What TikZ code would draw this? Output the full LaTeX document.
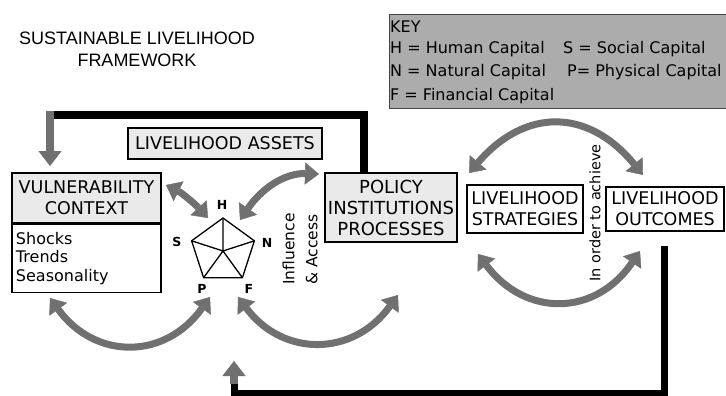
\documentclass[tikz,border=0pt]{standalone}
\usepackage{fontspec}
\setmainfont{DejaVu Sans}
\newfontfamily\titlefont{Liberation Sans}
\usetikzlibrary{arrows.meta}
\definecolor{arrgray}{RGB}{112,112,112}
\definecolor{keygray}{RGB}{172,172,172}
\definecolor{keyborder}{RGB}{70,70,70}
\definecolor{lightfill}{RGB}{234,234,234}
\begin{document}
\begin{tikzpicture}[x=1pt,y=-1pt,
  box/.style={draw=black, line width=1.4pt, inner sep=0pt, align=center, font=\fontsize{17.5}{21}\selectfont},
  garrow/.style={draw=arrgray, line width=7pt,
    {Triangle[width=22pt,length=14pt,line width=0.4pt]}-{Triangle[width=22pt,length=14pt,line width=0.4pt]}},
  ghead/.style={draw=arrgray, line width=8pt, -{Triangle[width=23pt,length=15pt,line width=0.4pt]}},
  feed/.style={draw=black, line width=8pt},
  keytext/.style={anchor=base west, inner sep=0pt, font=\fontsize{16}{19}\selectfont},
  pent/.style={draw=black, line width=1.3pt, line join=round},
  vlabel/.style={inner sep=0pt, font=\bfseries\fontsize{12.5}{14}\selectfont}
]
\useasboundingbox (0,0) rectangle (726,396);
\fill[white] (0,0) rectangle (726,396);

% title
\node[font=\titlefont\fontsize{18}{22}\selectfont, align=center, inner sep=0pt] (title) at (137,49) {SUSTAINABLE LIVELIHOOD\\FRAMEWORK};

% key
\node[draw=keyborder, line width=1.2pt, fill=keygray, minimum width=341pt, minimum height=94pt, anchor=north west, inner sep=0pt] (key) at (389,14) {};
\node[keytext] (k0) at (390,33) {KEY};
\node[keytext] (k1) at (390,54) {H = Human Capital};
\node[keytext] (k2) at (563,54) {S = Social Capital};
\node[keytext] (k3) at (390,77) {N = Natural Capital};
\node[keytext] (k4) at (567,77) {P= Physical Capital};
\node[keytext] (k5) at (390,100) {F = Financial Capital};

% top feedback line
\coordinate (pTop) at (364,173);
\coordinate (vTop) at (50,166);
\draw[feed] (pTop) -- (364,115) -- (50,115);
\draw[ghead] (50,111) -- (vTop);

% bottom feedback line
\coordinate (oBot) at (664,246);
\coordinate (fbTip) at (234,361);
\draw[feed, line width=7pt] (oBot) -- (664,393) -- (234,393) -- (234,380);
\draw[ghead] (234,384) -- (fbTip);

% boxes
\node[box, fill=lightfill, minimum width=194pt, minimum height=31pt] (assets) at (225,143.5) {LIVELIHOOD ASSETS};
\node[box, fill=lightfill, minimum width=149pt, minimum height=50pt] (vulhead) at (86.5,198) {VULNERABILITY\\CONTEXT};
\node[box, fill=white, minimum width=149pt, minimum height=68pt, anchor=north, align=left, text width=141pt, font=\fontsize{16}{18.5}\selectfont] (vulbody) at (vulhead.south) {Shocks\\Trends\\Seasonality};
\node[box, fill=lightfill, minimum width=132pt, minimum height=69pt, font=\fontsize{18}{21}\selectfont] (policy) at (391,207.5) {POLICY\\INSTITUTIONS\\PROCESSES};
\node[box, fill=white, minimum width=116pt, minimum height=48pt] (strat) at (525,209) {LIVELIHOOD\\STRATEGIES};
\node[box, fill=white, minimum width=118pt, minimum height=44pt] (outc) at (665,209) {LIVELIHOOD\\OUTCOMES};

% pentagon
\coordinate (pc) at (223,251);
\coordinate (vH) at (223,218);
\coordinate (vN) at (254.4,240.8);
\coordinate (vF) at (242.4,277.7);
\coordinate (vP) at (203.6,277.7);
\coordinate (vS) at (191.6,240.8);
\draw[pent] (vH) -- (vN) -- (vF) -- (vP) -- (vS) -- cycle;
\draw[pent] (pc) -- (vH) (pc) -- (vN) (pc) -- (vF) (pc) -- (vP) (pc) -- (vS);
\node[vlabel] (lH) at (222,205) {H};
\node[vlabel] (lS) at (177,242) {S};
\node[vlabel] (lN) at (267,243) {N};
\node[vlabel] (lP) at (202,289) {P};
\node[vlabel] (lF) at (249,289) {F};

% rotated texts
\node[rotate=90, anchor=west, align=left, inner sep=0pt, font=\fontsize{15.5}{23}\selectfont] (infl) at (300,285) {Influence\\\& Access};
\node[rotate=90, inner sep=0pt, font=\fontsize{14.5}{17}\selectfont] (achieve) at (595,213) {In order to achieve};

% gray double arrows
\coordinate (a1s) at (166,185);
\coordinate (a1e) at (208,218);
\draw[garrow] (a1s) .. controls (182,193) and (196,205) .. (a1e);

\coordinate (a2s) at (240,220);
\coordinate (a2e) at (319,174);
\draw[garrow] (a2s) .. controls (262,188) and (285,173) .. (a2e);

\coordinate (a3s) at (469,173);
\coordinate (a3e) at (643,175);
\draw[garrow] (a3s) .. controls (525,108) and (588,108) .. (a3e);

\coordinate (a4s) at (478,254);
\coordinate (a4e) at (640,251);
\draw[garrow] (a4s) .. controls (525,317) and (595,317) .. (a4e);

\coordinate (a5s) at (50,298);
\coordinate (a5e) at (210,297);
\draw[garrow] (a5s) .. controls (95,360) and (165,360) .. (a5e);

\coordinate (a6s) at (238,297);
\coordinate (a6e) at (398,295);
\draw[garrow] (a6s) .. controls (283,357) and (353,357) .. (a6e);
\end{tikzpicture}
\end{document}
